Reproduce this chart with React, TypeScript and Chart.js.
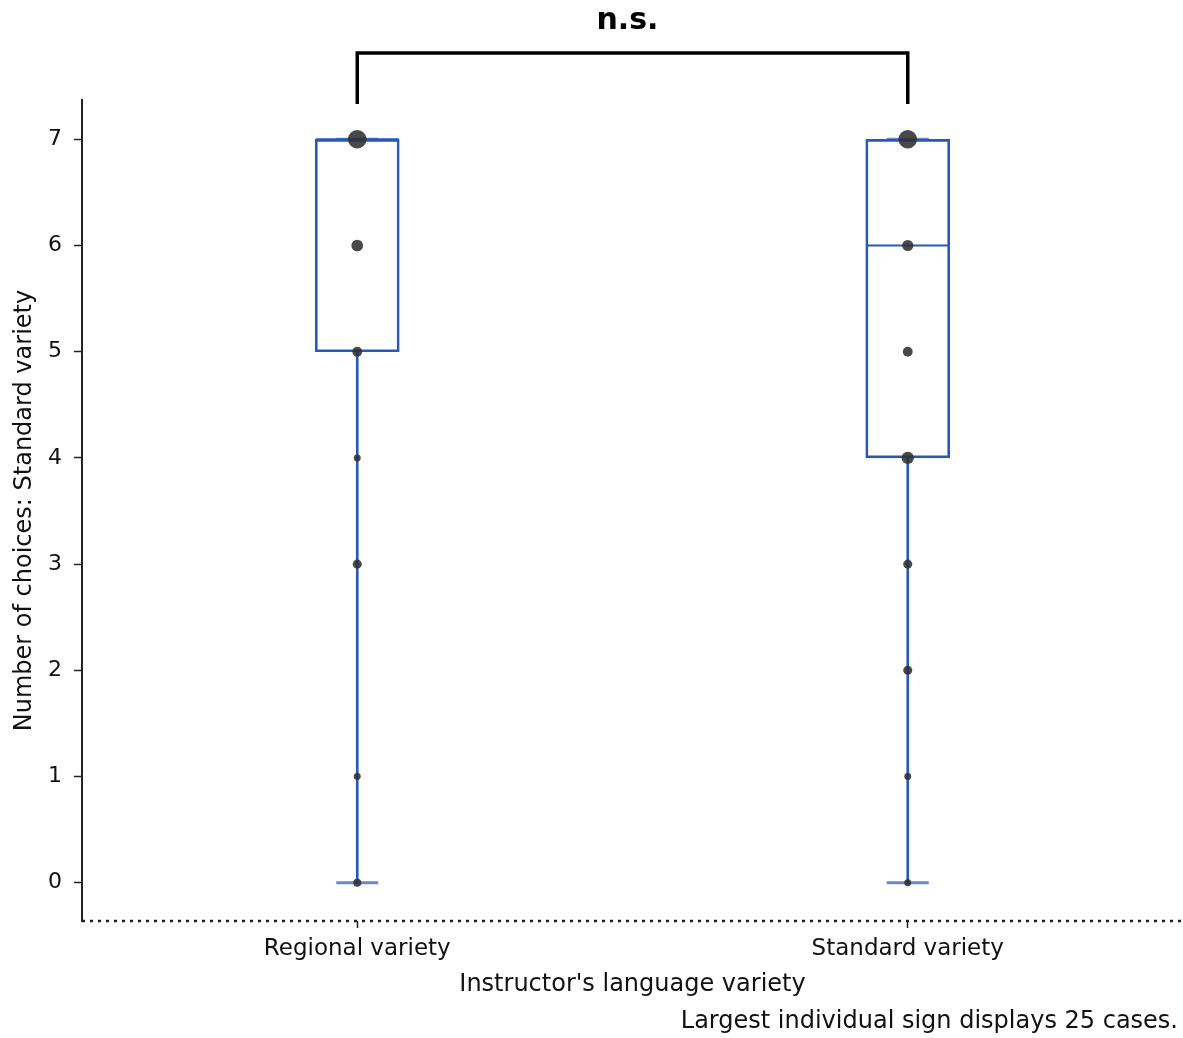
import React, { useEffect, useRef } from 'react';
import { Chart, registerables } from 'chart.js';

Chart.register(...registerables);

// ---- data ----
const categories = ['Regional variety', 'Standard variety'];
const whiskerLow = [0, 0];
const boxLow = [5, 4];
const medians = [7, 6];
const boxHigh = [7, 7];
const whiskerHigh = [7, 7];
const regionalValues = [0, 1, 3, 4, 5, 6, 7];
const regionalCounts = [2, 1, 3, 1, 4, 7, 25];
const standardValues = [0, 1, 2, 3, 4, 5, 6, 7];
const standardCounts = [1, 1, 3, 3, 8, 4, 6, 25];
const yTickValues = [0, 1, 2, 3, 4, 5, 6, 7];
const maxCases = 25;
const significanceLabel = 'n.s.';
const yTitle = 'Number of choices: Standard variety';
const xTitle = "Instructor's language variety";
const footnote = 'Largest individual sign displays 25 cases.';

const BLUE = 'rgb(40, 88, 184)';
const DOT = 'rgba(48, 48, 50, 0.88)';
const FONT = '"DejaVu Sans", "Open Sans", sans-serif';

const radiusFor = (count: number) => 2 + 7.3 * Math.sqrt(count / maxCases);

const boxPlotPlugin = {
  id: 'boxExtras',
  beforeDatasetsDraw(chart: any) {
    const { ctx, scales } = chart;
    const x = scales.x;
    const y = scales.y;
    ctx.save();
    // whisker caps
    ctx.strokeStyle = 'rgba(40, 88, 184, 0.7)';
    ctx.lineWidth = 3;
    categories.forEach((_, i) => {
      const cx = x.getPixelForValue(i);
      [whiskerLow[i], whiskerHigh[i]].forEach((v) => {
        const py = y.getPixelForValue(v);
        ctx.beginPath();
        ctx.moveTo(cx - 21, py);
        ctx.lineTo(cx + 21, py);
        ctx.stroke();
      });
    });
    // medians
    ctx.strokeStyle = BLUE;
    ctx.lineWidth = 2;
    categories.forEach((_, i) => {
      const cx = x.getPixelForValue(i);
      const py = y.getPixelForValue(medians[i]);
      ctx.beginPath();
      ctx.moveTo(cx - 41.5, py);
      ctx.lineTo(cx + 41.5, py);
      ctx.stroke();
    });
    ctx.restore();
  },
  afterDraw(chart: any) {
    const { ctx, scales, chartArea } = chart;
    const x = scales.x;
    const x0 = x.getPixelForValue(0);
    const x1 = x.getPixelForValue(1);
    const top = chartArea.top;
    ctx.save();
    // dotted x axis line
    ctx.strokeStyle = '#222';
    ctx.lineWidth = 2.5;
    ctx.setLineDash([3, 5]);
    ctx.beginPath();
    ctx.moveTo(chartArea.left, chartArea.bottom);
    ctx.lineTo(chart.width, chartArea.bottom);
    ctx.stroke();
    ctx.setLineDash([]);
    // significance bracket
    ctx.strokeStyle = '#000';
    ctx.lineWidth = 3.5;
    ctx.lineCap = 'butt';
    ctx.beginPath();
    ctx.moveTo(x0, top + 4);
    ctx.lineTo(x0, top - 47);
    ctx.lineTo(x1, top - 47);
    ctx.lineTo(x1, top + 4);
    ctx.stroke();
    ctx.fillStyle = '#000';
    ctx.font = `bold 30px ${FONT}`;
    ctx.textAlign = 'center';
    ctx.textBaseline = 'middle';
    ctx.fillText(significanceLabel, (x0 + x1) / 2 - 5, top - 79);
    // footnote
    ctx.font = `24px ${FONT}`;
    ctx.textAlign = 'right';
    ctx.fillStyle = '#111';
    ctx.fillText(footnote, chart.width - 5, 1022);
    ctx.restore();
  },
};

export default function App() {
  const canvasRef = useRef<HTMLCanvasElement | null>(null);

  useEffect(() => {
    if (!canvasRef.current) return;
    const dots = [
      ...regionalValues.map((v, j) => ({ x: categories[0], y: v, r: radiusFor(regionalCounts[j]) })),
      ...standardValues.map((v, j) => ({ x: categories[1], y: v, r: radiusFor(standardCounts[j]) })),
    ];
    const chart = new Chart(canvasRef.current, {
      type: 'bar',
      data: {
        labels: categories,
        datasets: [
          {
            type: 'bubble',
            label: 'cases',
            data: dots as any,
            backgroundColor: DOT,
            borderWidth: 0,
            order: 0,
          } as any,
          {
            label: 'box',
            data: categories.map((_, i) => [boxLow[i], boxHigh[i]]) as any,
            backgroundColor: 'rgba(0,0,0,0)',
            borderColor: BLUE,
            borderWidth: 2,
            borderSkipped: false,
            barThickness: 84,
            grouped: false,
            order: 1,
          } as any,
          {
            label: 'lower whisker',
            data: categories.map((_, i) => [whiskerLow[i], boxLow[i]]) as any,
            backgroundColor: BLUE,
            borderWidth: 0,
            barThickness: 2,
            grouped: false,
            order: 2,
          } as any,
          {
            label: 'upper whisker',
            data: categories.map((_, i) => [boxHigh[i], whiskerHigh[i]]) as any,
            backgroundColor: BLUE,
            borderWidth: 0,
            barThickness: 2,
            grouped: false,
            order: 3,
          } as any,
        ],
      },
      options: {
        animation: false,
        responsive: false,
        events: [],
        layout: { autoPadding: false, padding: { top: 100, left: 0, right: 0, bottom: 0 } },
        plugins: {
          legend: { display: false },
          tooltip: { enabled: false },
        },
        scales: {
          x: {
            type: 'category',
            offset: true,
            afterFit: (s: any) => {
              s.height = 117;
              s.paddingLeft = 0;
              s.paddingRight = 0;
            },
            grid: {
              offset: false,
              drawOnChartArea: false,
              drawTicks: true,
              tickLength: 7,
              tickWidth: 1.5,
              color: '#222',
            },
            border: { display: false },
            ticks: {
              color: '#111',
              font: { family: FONT, size: 23 },
              padding: 7,
              maxRotation: 0,
            },
            title: {
              display: true,
              text: xTitle,
              color: '#111',
              font: { family: FONT, size: 24 },
              padding: { top: 0, bottom: 39 },
            },
          },
          y: {
            type: 'linear',
            min: -0.36,
            max: 7.37,
            afterFit: (s: any) => {
              s.width = 82;
            },
            afterBuildTicks: (s: any) => {
              s.ticks = yTickValues.map((v) => ({ value: v }));
            },
            grid: {
              drawOnChartArea: false,
              drawTicks: true,
              tickLength: 8,
              tickWidth: 1.5,
              color: '#222',
            },
            border: { display: true, color: '#222', width: 2 },
            ticks: {
              color: '#111',
              font: { family: FONT, size: 22 },
              padding: 12,
            },
            title: {
              display: true,
              text: yTitle,
              color: '#111',
              font: { family: FONT, size: 24 },
              padding: { top: 10, bottom: 0 },
            },
          },
        },
      } as any,
      plugins: [boxPlotPlugin],
    });
    return () => chart.destroy();
  }, []);

  return (
    <div style={{ position: 'fixed', left: 0, top: 0, width: 1183, height: 1038, background: '#fff' }}>
      <canvas ref={canvasRef} width={1183} height={1038} style={{ display: 'block' }} />
    </div>
  );
}
